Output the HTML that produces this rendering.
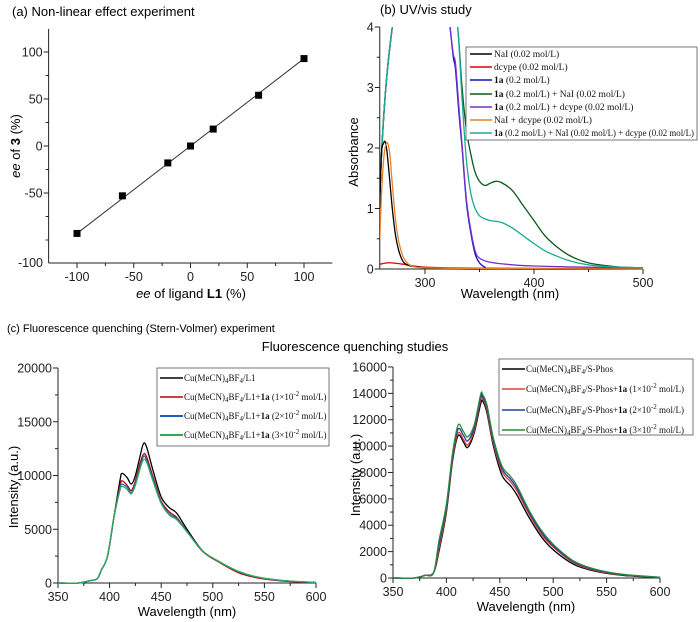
<!DOCTYPE html>
<html><head><meta charset="utf-8"><style>
html,body{margin:0;padding:0;background:#fff;}
svg{display:block;font-family:"Liberation Sans",sans-serif;}
.lg{font-family:"Liberation Serif",serif;font-size:9.5px;fill:#111;}
.lgc{font-family:"Liberation Serif",serif;font-size:9px;fill:#111;}
</style></head><body>
<svg id="fig" width="700" height="622" viewBox="0 0 700 622">
<defs>
<clipPath id="clipb"><rect x="380" y="27" width="263" height="243"/></clipPath>
</defs>
<text x="12" y="16" font-size="13">(a) Non-linear effect experiment</text>
<text x="380" y="14" font-size="13">(b) UV/vis study</text>
<text x="7" y="332" font-size="11">(c) Fluorescence quenching (Stern-Volmer) experiment</text>
<text x="355" y="351" font-size="13" text-anchor="middle">Fluorescence quenching studies</text>

<text transform="translate(20,146) rotate(-90)" font-size="13" text-anchor="middle"><tspan font-style="italic">ee</tspan> of <tspan font-weight="bold">3</tspan> (%)</text>
<text x="191" y="298" font-size="13" text-anchor="middle"><tspan font-style="italic">ee</tspan> of ligand <tspan font-weight="bold">L1</tspan> (%)</text>
<text transform="translate(358,152) rotate(-90)" font-size="13" text-anchor="middle">Absorbance</text>
<text x="510" y="298" font-size="13" text-anchor="middle">Wavelength (nm)</text>
<text transform="translate(18,487) rotate(-90)" font-size="13" text-anchor="middle">Intensity (a.u.)</text>
<text x="187" y="616" font-size="13" text-anchor="middle">Wavelength (nm)</text>
<text transform="translate(360,475) rotate(-90)" font-size="13" text-anchor="middle">Intensity (a.u.)</text>
<text x="526" y="611" font-size="13" text-anchor="middle">Wavelength (nm)</text>

<g id="gA"></g>
<g id="gB"></g>
<g id="gCL"></g>
<g id="gCR"></g>

<g>
<rect x="466" y="47" width="231" height="93" fill="#fff" stroke="#555" stroke-width="0.8"/>
<line x1="470" y1="54" x2="492" y2="54" stroke="#000" stroke-width="1.5"/><text class="lg" x="494" y="57">NaI (0.02 mol/L)</text>
<line x1="470" y1="67" x2="492" y2="67" stroke="#e00000" stroke-width="1.5"/><text class="lg" x="494" y="70">dcype (0.02 mol/L)</text>
<line x1="470" y1="80" x2="492" y2="80" stroke="#1010c0" stroke-width="1.5"/><text class="lg" x="494" y="83"><tspan font-weight="bold">1a</tspan> (0.2 mol/L)</text>
<line x1="470" y1="94" x2="492" y2="94" stroke="#0a5a1a" stroke-width="1.5"/><text class="lg" x="494" y="97"><tspan font-weight="bold">1a</tspan> (0.2 mol/L) + NaI (0.02 mol/L)</text>
<line x1="470" y1="107" x2="492" y2="107" stroke="#7a2fc8" stroke-width="1.5"/><text class="lg" x="494" y="110"><tspan font-weight="bold">1a</tspan> (0.2 mol/L) + dcype (0.02 mol/L)</text>
<line x1="470" y1="120" x2="492" y2="120" stroke="#e8802a" stroke-width="1.5"/><text class="lg" x="494" y="123">NaI + dcype  (0.02 mol/L)</text>
<line x1="470" y1="133" x2="492" y2="133" stroke="#1aaa90" stroke-width="1.5"/><text class="lg" x="494" y="136" textLength="200" lengthAdjust="spacingAndGlyphs"><tspan font-weight="bold">1a</tspan> (0.2 mol/L) + NaI (0.02 mol/L) + dcype (0.02 mol/L)</text>
</g>

<g>
<rect x="157" y="368" width="172" height="78" fill="#fff" stroke="#555" stroke-width="0.8"/>
<line x1="160" y1="378" x2="183" y2="378" stroke="#000" stroke-width="1.5"/><text class="lgc" x="184" y="381">Cu(MeCN)<tspan font-size="7" dy="2">4</tspan><tspan dy="-2">BF</tspan><tspan font-size="7" dy="2">4</tspan><tspan dy="-2">/L1</tspan></text>
<line x1="160" y1="397" x2="183" y2="397" stroke="#c00000" stroke-width="1.5"/><text class="lgc" x="184" y="400">Cu(MeCN)<tspan font-size="7" dy="2">4</tspan><tspan dy="-2">BF</tspan><tspan font-size="7" dy="2">4</tspan><tspan dy="-2">/L1+</tspan><tspan font-weight="bold">1a</tspan> (1×10<tspan font-size="7" dy="-4">-2</tspan><tspan dy="4"> mol/L)</tspan></text>
<line x1="160" y1="416" x2="183" y2="416" stroke="#1f5fbf" stroke-width="2"/><text class="lgc" x="184" y="419">Cu(MeCN)<tspan font-size="7" dy="2">4</tspan><tspan dy="-2">BF</tspan><tspan font-size="7" dy="2">4</tspan><tspan dy="-2">/L1+</tspan><tspan font-weight="bold">1a</tspan> (2×10<tspan font-size="7" dy="-4">-2</tspan><tspan dy="4"> mol/L)</tspan></text>
<line x1="160" y1="435" x2="183" y2="435" stroke="#2eaa5a" stroke-width="2"/><text class="lgc" x="184" y="438">Cu(MeCN)<tspan font-size="7" dy="2">4</tspan><tspan dy="-2">BF</tspan><tspan font-size="7" dy="2">4</tspan><tspan dy="-2">/L1+</tspan><tspan font-weight="bold">1a</tspan> (3×10<tspan font-size="7" dy="-4">-2</tspan><tspan dy="4"> mol/L)</tspan></text>
</g>

<g>
<rect x="499" y="359" width="194" height="76" fill="#fff" stroke="#555" stroke-width="0.8"/>
<line x1="502" y1="369" x2="525" y2="369" stroke="#000" stroke-width="1.5"/><text class="lgc" x="526" y="372">Cu(MeCN)<tspan font-size="7" dy="2">4</tspan><tspan dy="-2">BF</tspan><tspan font-size="7" dy="2">4</tspan><tspan dy="-2">/S-Phos</tspan></text>
<line x1="502" y1="389" x2="525" y2="389" stroke="#e04040" stroke-width="1.5"/><text class="lgc" x="526" y="392">Cu(MeCN)<tspan font-size="7" dy="2">4</tspan><tspan dy="-2">BF</tspan><tspan font-size="7" dy="2">4</tspan><tspan dy="-2">/S-Phos+</tspan><tspan font-weight="bold">1a</tspan> (1×10<tspan font-size="7" dy="-4">-2</tspan><tspan dy="4"> mol/L)</tspan></text>
<line x1="502" y1="410" x2="525" y2="410" stroke="#2040a0" stroke-width="1.5"/><text class="lgc" x="526" y="413">Cu(MeCN)<tspan font-size="7" dy="2">4</tspan><tspan dy="-2">BF</tspan><tspan font-size="7" dy="2">4</tspan><tspan dy="-2">/S-Phos+</tspan><tspan font-weight="bold">1a</tspan> (2×10<tspan font-size="7" dy="-4">-2</tspan><tspan dy="4"> mol/L)</tspan></text>
<line x1="502" y1="430" x2="525" y2="430" stroke="#2a8a3a" stroke-width="1.5"/><text class="lgc" x="526" y="433">Cu(MeCN)<tspan font-size="7" dy="2">4</tspan><tspan dy="-2">BF</tspan><tspan font-size="7" dy="2">4</tspan><tspan dy="-2">/S-Phos+</tspan><tspan font-weight="bold">1a</tspan> (3×10<tspan font-size="7" dy="-4">-2</tspan><tspan dy="4"> mol/L)</tspan></text>
</g>
</svg>
<script>
// ---- Panel (a) data ----
const aLigandEE = [-100, -60, -20, 0, 20, 60, 100];
const aProductEE = [-93, -53, -18, 0, 18, 54, 93];
const aXTicks = [-100, -50, 0, 50, 100];
const aYTicks = [100, 50, 0, -50];
// ---- Panel (b) data ----
const bXTicks = [300, 400, 500];
const bYTicks = [0, 1, 2, 3, 4];
const bNaIWl = [258.5,260,262,263.5,265,267,270,273,276,280,285,290,300,320,350,500];
const bNaIAbs = [1.0,1.9,2.08,2.1,1.95,1.6,1.0,0.55,0.3,0.12,0.06,0.04,0.02,0.01,0,0];
const bOrangeWl = [258.5,260,262,264,266,268,270,273,276,280,285,290,300,350,500];
const bOrangeAbs = [0.5,1.2,1.8,2.05,2.07,1.85,1.4,0.8,0.45,0.2,0.08,0.04,0.02,0.01,0];
const bRedWl = [258.5,265,270,280,290,300,320,350,400,500];
const bRedAbs = [0.08,0.1,0.1,0.08,0.05,0.03,0.02,0.015,0.01,0.005];
const bBlueWl = [258.5,261,265,270,275,320,323,326,328,331,334,338,342,346,350,355,360,400,500];
const bBlueAbs = [1.2,2.2,3.2,4.0,4.6,4.6,4.0,3.5,3.3,2.6,2.0,1.1,0.6,0.25,0.1,0.03,0.01,0,0];
const bPurpleWl = [258.5,261,265,270,275,320,323,326,328,331,334,338,342,346,350,360,380,400,450,500];
const bPurpleAbs = [1.2,2.2,3.2,4.0,4.6,4.6,4.0,3.55,3.4,2.7,2.05,1.15,0.65,0.3,0.18,0.11,0.07,0.05,0.03,0.02];
const bGreenWl = [258.5,261,265,270,275,325,330,334,338,342,346,350,355,360,365,370,380,390,400,410,420,430,440,450,460,480,500];
const bGreenAbs = [1.2,2.2,3.2,4.0,4.6,4.6,4.0,3.0,2.3,1.9,1.6,1.45,1.38,1.42,1.45,1.43,1.3,1.05,0.8,0.55,0.38,0.25,0.16,0.1,0.07,0.03,0.02];
const bTealWl = [258.5,261,265,270,275,325,330,334,338,342,346,350,355,360,370,380,390,400,410,420,430,440,450,460,480,500];
const bTealAbs = [1.2,2.2,3.2,4.0,4.6,4.6,4.0,2.8,1.8,1.25,1.0,0.88,0.83,0.8,0.77,0.68,0.55,0.42,0.3,0.22,0.15,0.1,0.07,0.05,0.03,0.02];
// ---- Panel (c) left data ----
const cXTicks = [350, 400, 450, 500, 550, 600];
const clYTicks = [0, 5000, 10000, 15000, 20000];
const clWl = [350,370,380,388,392,398,404,410,412,417,421,425,430,433,436,442,450,458,465,475,490,505,525,545,570,600];
const clBlack = [0,0,200,400,1200,2500,6000,9500,10200,9800,9200,10000,12000,13000,12600,10500,8000,7000,6500,5000,3000,2000,1000,500,200,50];
const clRed = [0,0,200,400,1200,2500,6000,9000,9500,9100,8600,9500,11300,12000,11700,9900,7600,6600,6100,4800,2950,2000,950,450,170,40];
const clBlue = [0,0,200,400,1200,2500,6000,8800,9200,8900,8400,9300,11000,11800,11400,9700,7500,6400,6000,4800,3000,2050,1050,500,200,50];
const clGreen = [0,0,200,400,1200,2500,6000,8600,9000,8700,8300,9100,10800,11500,11200,9500,7400,6300,5900,4750,3000,2050,1080,530,220,60];
// ---- Panel (c) right data ----
const crYTicks = [0, 2000, 4000, 6000, 8000, 10000, 12000, 14000, 16000];
const crWl = [350,370,380,388,393,400,406,411,416,420,426,432,434,438,444,452,460,466,478,490,502,520,540,565,600];
const crBlack = [0,0,200,400,2000,5000,9000,10800,10300,9900,11000,13200,13400,12500,10000,7800,7000,6300,4500,3000,2000,1000,500,200,30];
const crRed = [0,0,200,400,2200,5200,9200,11000,10500,10100,11200,13500,13600,12700,10200,8100,7300,6600,4750,3200,2200,1100,550,230,40];
const crBlue = [0,0,200,400,2500,5400,9400,11300,10800,10400,11400,13700,13750,12900,10400,8300,7500,6800,4900,3350,2300,1180,600,250,50];
const crGreen = [0,0,200,400,2800,5600,9600,11600,11100,10700,11600,13900,13900,13100,10600,8500,7700,7000,5050,3500,2400,1250,650,280,60];

const NS = 'http://www.w3.org/2000/svg';
function mk(parent, tag, attrs) {
  const el = document.createElementNS(NS, tag);
  for (const k in attrs) el.setAttribute(k, attrs[k]);
  parent.appendChild(el);
  return el;
}
function axes(g, pre, sx, sy, xr, yr, xt, yt, xminor, yminor) {
  const x0 = sx(xr[0]), x1 = sx(xr[1]), y0 = sy(yr[0]), y1 = sy(yr[1]);
  const xa = mk(g, 'line', {x1: x0, y1: y0, x2: x1, y2: y0, stroke: '#222', 'stroke-width': 1});
  
  
  const ya = mk(g, 'line', {x1: x0, y1: y0, x2: x0, y2: y1, stroke: '#222', 'stroke-width': 1});
  
  
  xminor.forEach(v => {
    const t = mk(g, 'line', {x1: sx(v), y1: y0, x2: sx(v), y2: y0 + 3, stroke: '#222'});
    
    
  });
  yminor.forEach(v => {
    const t = mk(g, 'line', {x1: x0 - 3, y1: sy(v), x2: x0, y2: sy(v), stroke: '#222'});
    
    
  });
  xt.forEach(v => {
    const t = mk(g, 'line', {x1: sx(v), y1: y0, x2: sx(v), y2: y0 + 5, stroke: '#222'});
    
    
    const l = mk(g, 'text', {x: sx(v), y: y0 + 18, 'font-size': 12.5, 'text-anchor': 'middle', fill: '#222'});
    l.textContent = String(v);
    
    
  });
  yt.forEach(v => {
    const t = mk(g, 'line', {x1: x0 - 5, y1: sy(v), x2: x0, y2: sy(v), stroke: '#222'});
    
    
    const l = mk(g, 'text', {x: x0 - 6, y: sy(v) + 4.5, 'font-size': 12.5, 'text-anchor': 'end', fill: '#222'});
    l.textContent = String(v);
    
    
  });
}
function smoothPath(pts) {
  let d = 'M' + pts[0][0].toFixed(1) + ' ' + pts[0][1].toFixed(1);
  for (let i = 0; i < pts.length - 1; i++) {
    const p0 = pts[i - 1] || pts[i], p1 = pts[i], p2 = pts[i + 1], p3 = pts[i + 2] || p2;
    const c1x = p1[0] + (p2[0] - p0[0]) / 6, c1y = p1[1] + (p2[1] - p0[1]) / 6;
    const c2x = p2[0] - (p3[0] - p1[0]) / 6, c2y = p2[1] - (p3[1] - p1[1]) / 6;
    d += ' C' + c1x.toFixed(1) + ' ' + c1y.toFixed(1) + ' ' + c2x.toFixed(1) + ' ' + c2y.toFixed(1) + ' ' + p2[0].toFixed(1) + ' ' + p2[1].toFixed(1);
  }
  return d;
}
function series(g, name, xs, ys, sx, sy, color, w, clip) {
  const pts = xs.map((x, i) => [sx(x), sy(ys[i])]);
  const p = mk(g, 'path', {d: smoothPath(pts), fill: 'none', stroke: color, 'stroke-width': w, 'stroke-linejoin': 'round'});
  if (clip) p.setAttribute('clip-path', clip);
  
  
}

// Panel a
const xa = v => 190.5 + v * 1.135, ya = v => 146 - v * 0.94;
const gA = document.getElementById('gA');
axes(gA, 'a', xa, ya, [-125, 125], [-124.5, 124.5], aXTicks, aYTicks, [-75, -25, 25, 75], [75, 25, -25, -75, -100]);
const lm = mk(gA, 'text', {x: 43, y: 267, 'font-size': 12.5, 'text-anchor': 'end', fill: '#222'});
lm.textContent = '-100';


const fitLine = mk(gA, 'line', {x1: xa(aLigandEE[0]), y1: ya(aProductEE[0]), x2: xa(aLigandEE[aLigandEE.length - 1]), y2: ya(aProductEE[aProductEE.length - 1]), stroke: '#333', 'stroke-width': 1});


aLigandEE.forEach((v, i) => {
  const r = mk(gA, 'rect', {x: xa(v) - 3.5, y: ya(aProductEE[i]) - 3.5, width: 7, height: 7, fill: '#000'});
  
  
});

// Panel b
const xb = v => 425 + (v - 300) * 1.09, yb = v => 269 - v * 60.5;
const gB = document.getElementById('gB');
axes(gB, 'b', xb, yb, [258.5, 500], [0, 4], bXTicks, bYTicks, [350, 450], [0.5, 1.5, 2.5, 3.5]);
series(gB, 'b-series-dcype', bRedWl, bRedAbs, xb, yb, '#e00000', 1.3, 'url(#clipb)');
series(gB, 'b-series-1a', bBlueWl, bBlueAbs, xb, yb, '#1010c0', 1.3, 'url(#clipb)');
series(gB, 'b-series-1a-dcype', bPurpleWl, bPurpleAbs, xb, yb, '#7a2fc8', 1.3, 'url(#clipb)');
series(gB, 'b-series-1a-nai', bGreenWl, bGreenAbs, xb, yb, '#0a5a1a', 1.3, 'url(#clipb)');
series(gB, 'b-series-1a-nai-dcype', bTealWl, bTealAbs, xb, yb, '#1aaa90', 1.3, 'url(#clipb)');
series(gB, 'b-series-nai', bNaIWl, bNaIAbs, xb, yb, '#000', 1.3, 'url(#clipb)');
series(gB, 'b-series-nai-dcype', bOrangeWl, bOrangeAbs, xb, yb, '#e8802a', 1.3, 'url(#clipb)');

// Panel c left
const xcl = v => 58 + (v - 350) * 1.032, ycl = v => 583 - v * 0.01075;
const gCL = document.getElementById('gCL');
axes(gCL, 'cl', xcl, ycl, [350, 600], [0, 20000], cXTicks, clYTicks, [375, 425, 475, 525, 575], [2500, 7500, 12500, 17500]);
series(gCL, 'cl-series-base', clWl, clBlack, xcl, ycl, '#000', 1.3);
series(gCL, 'cl-series-1e-2', clWl, clRed, xcl, ycl, '#c00000', 1.3);
series(gCL, 'cl-series-2e-2', clWl, clBlue, xcl, ycl, '#1f5fbf', 1.3);
series(gCL, 'cl-series-3e-2', clWl, clGreen, xcl, ycl, '#2eaa5a', 1.3);

// Panel c right
const xcr = v => 393 + (v - 350) * 1.068, ycr = v => 578 - v * 0.01319;
const gCR = document.getElementById('gCR');
axes(gCR, 'cr', xcr, ycr, [350, 600], [0, 16000], cXTicks, crYTicks, [375, 425, 475, 525, 575], [1000, 3000, 5000, 7000, 9000, 11000, 13000, 15000]);
series(gCR, 'cr-series-base', crWl, crBlack, xcr, ycr, '#000', 1.3);
series(gCR, 'cr-series-1e-2', crWl, crRed, xcr, ycr, '#e04040', 1.3);
series(gCR, 'cr-series-2e-2', crWl, crBlue, xcr, ycr, '#2040a0', 1.3);
series(gCR, 'cr-series-3e-2', crWl, crGreen, xcr, ycr, '#2a8a3a', 1.3);
</script>
</body></html>
